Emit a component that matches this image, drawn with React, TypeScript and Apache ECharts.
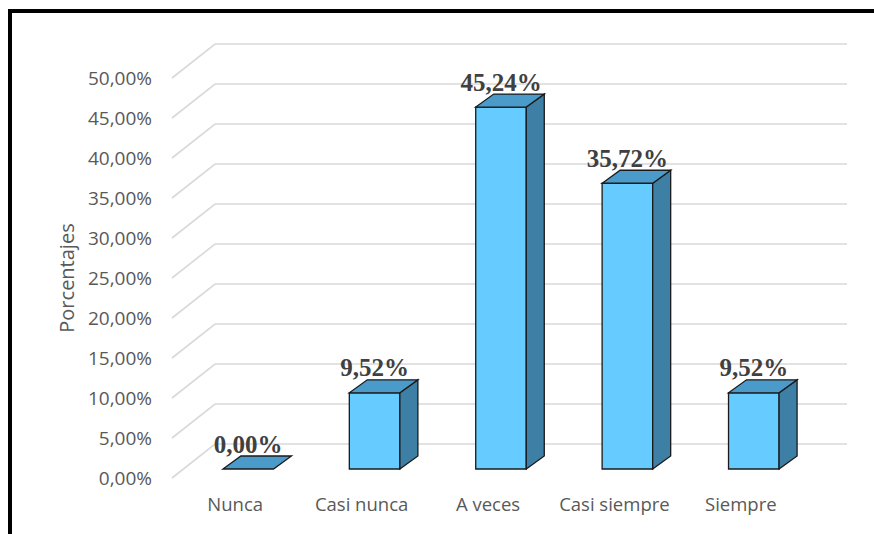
import React, { useEffect, useRef } from "react";
import * as echarts from "echarts";

const categories = ["Nunca", "Casi nunca", "A veces", "Casi siempre", "Siempre"];
const percentValues = [0, 9.52, 45.24, 35.72, 9.52];
const yTicks = [0, 5, 10, 15, 20, 25, 30, 35, 40, 45, 50];
const yAxisTitle = "Porcentajes";

const fmt = (v: number) => v.toFixed(2).replace(".", ",") + "%";

export default function App() {
  const ref = useRef<HTMLDivElement>(null);
  useEffect(() => {
    if (!ref.current) return;
    const chart = echarts.init(ref.current, null, { renderer: "svg" });
    const depthX = 43;
    const depthY = -34;
    const option: any = {
      animation: false,
      backgroundColor: "#ffffff",
      grid: { left: 172, right: 70, top: 78, bottom: 56 },
      xAxis: {
        type: "category",
        data: categories,
        axisLine: { show: false },
        axisTick: { show: false },
        splitLine: { show: false },
        axisLabel: {
          interval: 0,
          margin: 16,
          color: "#595959",
          fontFamily: "Open Sans",
          fontSize: 18.5,
        },
      },
      yAxis: {
        type: "value",
        min: 0,
        max: 50,
        interval: 5,
        name: yAxisTitle,
        nameLocation: "middle",
        nameRotate: 90,
        nameGap: 96,
        nameTextStyle: { color: "#595959", fontFamily: "Open Sans", fontSize: 20 },
        axisLine: { show: false },
        axisTick: { show: false },
        splitLine: { show: false },
        axisLabel: {
          margin: 20,
          color: "#595959",
          fontFamily: "Open Sans",
          fontSize: 19,
          formatter: (v: number) => fmt(v),
        },
      },
      graphic: [
        {
          type: "rect",
          z: 100,
          shape: { x: 10, y: 11, width: 900, height: 600 },
          style: { fill: "none", stroke: "#000000", lineWidth: 4 },
        },
      ],
      series: [
        {
          type: "custom",
          z: 1,
          silent: true,
          data: yTicks.map((v) => [0, v]),
          renderItem: (params: any, api: any) => {
            const cs = params.coordSys;
            const y = api.coord([0, api.value(1)])[1];
            return {
              type: "polyline",
              shape: {
                points: [
                  [cs.x, y],
                  [cs.x + depthX, y + depthY],
                  [cs.x + cs.width + depthX, y + depthY],
                ],
              },
              style: { stroke: "#D9D9D9", lineWidth: 1.6, fill: "none" },
            };
          },
        },
        {
          type: "custom",
          z: 5,
          data: percentValues.map((v, i) => [i, v]),
          renderItem: (params: any, api: any) => {
            const i = api.value(0);
            const v = api.value(1);
            const base = api.coord([i, 0]);
            const top = api.coord([i, v]);
            const ox = 13;
            const oy = -9;
            const dx = 18;
            const dy = -13;
            const w = api.size([1, 0])[0] * 0.4;
            const x0 = base[0] + ox - w / 2;
            const x1 = x0 + w;
            const yb = base[1] + oy;
            const yt = top[1] + oy;
            const stroke = "#1A1A1A";
            const lw = 1.3;
            const children: any[] = [];
            if (v > 0) {
              children.push({
                type: "polygon",
                shape: { points: [[x0, yt], [x1, yt], [x1, yb], [x0, yb]] },
                style: { fill: "#66CCFF", stroke, lineWidth: lw },
              });
              children.push({
                type: "polygon",
                shape: { points: [[x1, yt], [x1 + dx, yt + dy], [x1 + dx, yb + dy], [x1, yb]] },
                style: { fill: "#3E7FA6", stroke, lineWidth: lw },
              });
            }
            children.push({
              type: "polygon",
              shape: { points: [[x0, yt], [x1, yt], [x1 + dx, yt + dy], [x0 + dx, yt + dy]] },
              style: { fill: "#4A9BC9", stroke, lineWidth: lw },
            });
            children.push({
              type: "text",
              style: {
                text: fmt(v),
                x: (x0 + x1) / 2,
                y: yt - 25,
                align: "center",
                verticalAlign: "middle",
                fill: "#404040",
                font: "bold 25px 'Liberation Serif'",
              },
            });
            return { type: "group", children };
          },
        },
      ],
    };
    chart.setOption(option);
    return () => chart.dispose();
  }, []);
  return (
    <div
      ref={ref}
      style={{ position: "absolute", left: 0, top: 0, width: 874, height: 534 }}
    />
  );
}
